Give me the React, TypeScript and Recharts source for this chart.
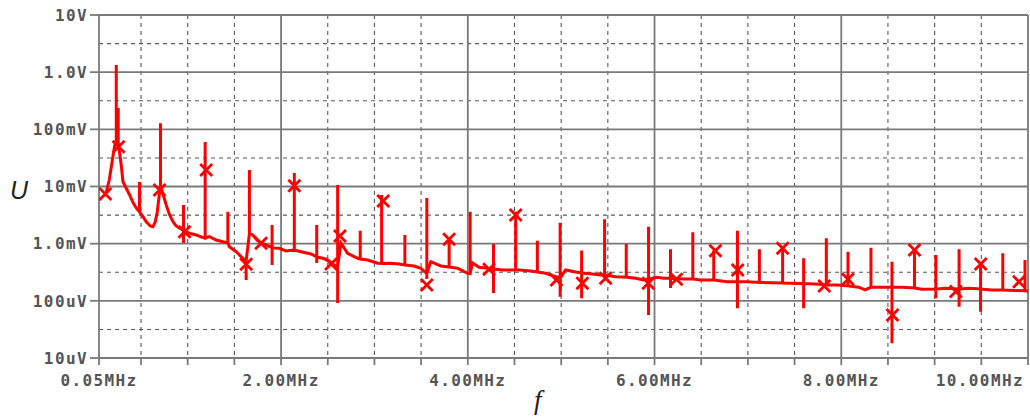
import React from 'react'
import {
  ComposedChart, Line, Scatter, XAxis, YAxis, CartesianGrid, Label,
} from 'recharts'

// Spectrum of U(f), voltages in mV, frequency in MHz

// smooth floor of the spectrum between the harmonic lines
const baseF = [
  0.128, 0.16, 0.193, 0.219, 0.246, 0.288, 0.307, 0.378, 0.417, 0.449, 0.524, 0.556, 0.599, 0.628,
  0.652, 0.674, 0.695, 0.717, 0.738, 0.77, 0.802, 0.842, 0.877, 0.912, 0.984, 1.019, 1.091, 1.144,
  1.233, 1.305, 1.376, 1.447, 1.519, 1.59, 1.697, 1.743, 1.786, 1.84, 1.979, 2.053, 2.214, 2.321,
  2.446, 2.513, 2.567, 2.642, 2.713, 2.82, 2.927, 3.034, 3.176, 3.262, 3.426, 3.497, 3.54, 3.604,
  3.711, 3.89, 3.997, 4.05, 4.121, 4.193, 4.371, 4.46, 4.549, 4.674, 4.834, 4.92, 5.048, 5.155,
  5.334, 5.422, 5.583, 5.797, 5.882, 6.029, 6.099, 6.313, 6.492, 6.778, 6.991, 7.241, 7.455, 7.722,
  7.954, 8.185, 8.257, 8.399, 8.649, 8.863, 9.112, 9.361, 9.612, 9.861, 10.0,
]
const baseV = [
  8.0, 13.0, 29.1, 53, 62, 23.8, 12.1, 7.1, 5.14, 4.21, 2.93, 2.42, 2.04, 1.98,
  2.39, 3.58, 7.1, 9.42, 7.1, 4.75, 3.3, 2.42, 2.04, 1.86, 1.6, 1.52, 1.42, 1.31,
  1.33, 1.16, 1.08, 0.885, 0.724, 0.555, 1.42, 1.15, 1.02, 0.95, 0.83, 0.745, 0.724, 0.66,
  0.555, 0.5, 0.424, 1.02, 0.679, 0.555, 0.518, 0.454, 0.454, 0.44, 0.407, 0.371, 0.32, 0.484,
  0.407, 0.371, 0.303, 0.459, 0.386, 0.376, 0.347, 0.347, 0.347, 0.333, 0.303, 0.272, 0.347, 0.32,
  0.295, 0.283, 0.265, 0.248, 0.232, 0.258, 0.248, 0.241, 0.232, 0.216, 0.216, 0.208, 0.203, 0.197,
  0.189, 0.173, 0.155, 0.173, 0.173, 0.159, 0.166, 0.166, 0.155, 0.151, 0.149,
]

// harmonic lines: position, floor, peak, lowest dip
const spikeF = [
  0.235, 0.256, 0.484, 0.709, 0.955, 1.187, 1.43, 1.626, 1.661, 1.904, 2.142, 2.382, 2.606, 2.848,
  3.077, 3.326, 3.561, 3.8, 4.025, 4.275, 4.513, 4.745, 4.989, 5.219, 5.465, 5.697, 5.936, 6.171,
  6.41, 6.634, 6.888, 7.123, 7.372, 7.597, 7.84, 8.072, 8.318, 8.543, 8.784, 9.013, 9.262, 9.492,
  9.73, 9.968,
]
const spikeBase = [
  55, 58, 3.58, 8.5, 1.73, 1.26, 1.03, 0.5, 1.5, 0.85, 0.775, 0.585, 0.4, 0.54,
  0.45, 0.424, 0.3, 0.39, 0.3, 0.36, 0.347, 0.32, 0.25, 0.307, 0.283, 0.26, 0.24, 0.248,
  0.241, 0.232, 0.216, 0.21, 0.205, 0.2, 0.19, 0.182, 0.173, 0.173, 0.168, 0.161, 0.161, 0.161,
  0.155, 0.15,
]
const spikeTop = [
  1335, 236, 12.0, 128, 4.75, 60.1, 3.62, 0.5, 19.4, 2.12, 17.2, 2.12, 10.6, 1.69,
  7.1, 1.42, 6.29, 1.19, 3.62, 0.987, 3.62, 1.13, 2.33, 0.76, 2.67, 0.987, 1.98, 0.798,
  1.58, 0.76, 1.69, 0.798, 0.8, 0.555, 1.24, 0.724, 0.851, 0.484, 0.76, 0.634, 0.798, 0.441,
  0.679, 0.518,
]
const spikeLow = [
  55, 58, 3.58, 8.5, 1.03, 1.26, 1.03, 0.232, 1.5, 0.424, 0.775, 0.459, 0.0917, 0.54,
  0.45, 0.424, 0.24, 0.39, 0.3, 0.137, 0.347, 0.32, 0.118, 0.111, 0.283, 0.26, 0.0565, 0.168,
  0.241, 0.232, 0.0741, 0.21, 0.205, 0.0741, 0.19, 0.182, 0.173, 0.0181, 0.168, 0.111, 0.0791, 0.0646,
  0.155, 0.15,
]

// measured points (crosses)
const markF = [
  0.118, 0.26, 0.698, 0.966, 1.198, 1.626, 1.786, 2.142, 2.535, 2.631, 3.094, 3.561, 3.8, 4.228, 4.513,
  4.949, 5.227, 5.476, 5.933, 6.235, 6.652, 6.891, 7.372, 7.818, 8.072, 8.549, 8.784, 9.227, 9.494, 9.904,
]
const markV = [
  7.4, 49.7, 8.7, 1.62, 19.5, 0.436, 1.02, 10.3, 0.441, 1.36, 5.58, 0.189, 1.19, 0.356, 3.18,
  0.232, 0.203, 0.248, 0.203, 0.238, 0.753, 0.347, 0.83, 0.182, 0.238, 0.0565, 0.775, 0.145, 0.441, 0.216,
]

const yTicks = [0.01, 0.1, 1, 10, 100, 1000, 10000]
const yTickLabels = ['10uV', '100uV', '1.0mV', '10mV', '100mV', '1.0V', '10V']
const xTicks = [0.05, 0.5, 1, 1.5, 2, 2.5, 3, 3.5, 4, 4.5, 5, 5.5, 6, 6.5, 7, 7.5, 8, 8.5, 9, 9.5, 10]
const xLabelAt = [0.05, 2, 4, 6, 8, 10]
const xTickLabels = ['0.05MHz', '2.00MHz', '4.00MHz', '6.00MHz', '8.00MHz', '10.00MHz']

const gridMajorY = [0.1, 1, 10, 100, 1000, 10000]
const gridMinorY = [0.0316, 0.316, 3.16, 31.6, 316, 3162]
const gridMajorX = [2, 4, 6, 8, 10]
const gridMinorX = [0.5, 1, 1.5, 2.5, 3, 3.5, 4.5, 5, 5.5, 6.5, 7, 7.5, 8.5, 9, 9.5]

const trace = [
  ...baseF.map((f, i) => ({ f, v: baseV[i] })),
  ...spikeF.flatMap((f, i) => [
    { f, v: spikeBase[i] },
    { f, v: spikeTop[i] },
    { f, v: spikeLow[i] },
    { f, v: spikeBase[i] },
  ]),
].sort((a, b) => a.f - b.f)

const marks = markF.map((f, i) => ({ f, v: markV[i] }))

const GRAY = '#7a7a7a'
const RED = '#ff0000'
const tickFont = {
  fontFamily: '"DejaVu Sans Mono", monospace',
  fontWeight: 700,
  fontSize: 16,
  letterSpacing: 1.4,
  fill: '#555',
}

const YTick = ({ x, y, payload }: any) => {
  const i = yTicks.indexOf(payload.value)
  return (
    <text x={x} y={y} dy="0.36em" textAnchor="end" {...tickFont}>
      {yTickLabels[i]}
    </text>
  )
}

const XTick = ({ x, y, payload }: any) => {
  const i = xLabelAt.indexOf(payload.value)
  if (i < 0) return null
  const last = i === xLabelAt.length - 1
  return (
    <text x={last ? x + 2 : x} y={y} dy="0.71em" textAnchor={last ? 'end' : 'middle'} {...tickFont}>
      {xTickLabels[i]}
    </text>
  )
}

const Cross = ({ cx, cy }: any) => (
  <path
    d={`M${cx - 6},${cy - 6}L${cx + 6},${cy + 6}M${cx - 6},${cy + 6}L${cx + 6},${cy - 6}`}
    stroke={RED}
    strokeWidth={2.8}
    fill="none"
  />
)

export default function App() {
  return (
    <div style={{ position: 'absolute', left: 0, top: 0, background: '#fff' }}>
      <ComposedChart width={1030} height={417} margin={{ top: 15, right: 2, bottom: 0, left: 0 }}>
        <CartesianGrid
          horizontalValues={gridMinorY}
          verticalValues={gridMinorX}
          stroke="#5a5a5a"
          strokeDasharray="4 4"
          strokeWidth={1.1}
        />
        <CartesianGrid
          horizontalValues={gridMajorY}
          verticalValues={gridMajorX}
          stroke={GRAY}
          strokeWidth={1.8}
        />
        <XAxis
          type="number"
          dataKey="f"
          domain={[0.05, 10]}
          ticks={xTicks}
          allowDataOverflow
          height={59}
          tickSize={7}
          tickMargin={10}
          tick={<XTick />}
          stroke={GRAY}
          strokeWidth={1.8}
        >
          <Label
            content={() => (
              <text x={534} y={409} fontFamily='"Liberation Serif", serif' fontStyle="italic" fontSize={27} fill="#222">
                f
              </text>
            )}
          />
        </XAxis>
        <YAxis
          type="number"
          dataKey="v"
          scale="log"
          domain={[0.01, 10000]}
          ticks={yTicks}
          allowDataOverflow
          width={99}
          tickSize={9}
          tickMargin={2}
          tick={<YTick />}
          stroke={GRAY}
          strokeWidth={1.8}
        >
          <Label
            content={() => (
              <text x={10} y={199} fontFamily='"Liberation Sans", sans-serif' fontStyle="italic" fontSize={25} fill="#222">
                U
              </text>
            )}
          />
        </YAxis>
        <Line
          data={trace}
          dataKey="v"
          type="linear"
          stroke={RED}
          strokeWidth={3}
          dot={false}
          activeDot={false}
          isAnimationActive={false}
        />
        <Scatter data={marks} dataKey="v" shape={<Cross />} isAnimationActive={false} />
      </ComposedChart>
    </div>
  )
}
